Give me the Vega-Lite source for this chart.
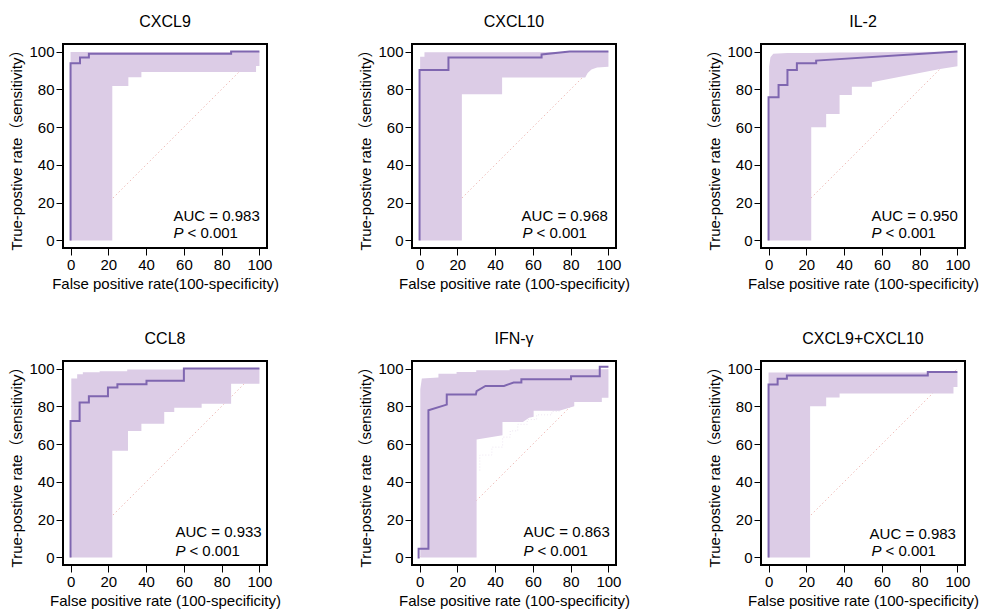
{
  "$schema": "https://vega.github.io/schema/vega-lite/v6.json",
  "padding": {"left": 8, "top": 13, "right": 5, "bottom": 5},
  "background": "white",
  "datasets": {
    "diag": [{"x": 0, "y": 0}, {"x": 100, "y": 100}],
    "curves": [
      {"panel": "CXCL9", "kind": "label", "auc": "AUC = 0.983", "p": "P", "pval": "< 0.001"},
      {"panel": "CXCL10", "kind": "label", "auc": "AUC = 0.968", "p": "P", "pval": "< 0.001"},
      {"panel": "IL-2", "kind": "label", "auc": "AUC = 0.950", "p": "P", "pval": "< 0.001"},
      {"panel": "CCL8", "kind": "label", "auc": "AUC = 0.933", "p": "P", "pval": "< 0.001"},
      {"panel": "IFN-γ", "kind": "label", "auc": "AUC = 0.863", "p": "P", "pval": "< 0.001"},
      {"panel": "CXCL9+CXCL10", "kind": "label", "auc": "AUC = 0.983", "p": "P", "pval": "< 0.001"},

      {"panel": "CXCL9", "kind": "band", "x": 0, "y": 99.8, "y2": 0},
      {"panel": "CXCL9", "kind": "band", "x": 22.1, "y": 99.8, "y2": 0},
      {"panel": "CXCL9", "kind": "band", "x": 22.1, "y": 99.8, "y2": 81.8},
      {"panel": "CXCL9", "kind": "band", "x": 30.6, "y": 99.8, "y2": 81.8},
      {"panel": "CXCL9", "kind": "band", "x": 30.6, "y": 99.8, "y2": 86.4},
      {"panel": "CXCL9", "kind": "band", "x": 37.5, "y": 99.8, "y2": 86.4},
      {"panel": "CXCL9", "kind": "band", "x": 37.5, "y": 99.8, "y2": 89.2},
      {"panel": "CXCL9", "kind": "band", "x": 98.2, "y": 99.8, "y2": 89.2},
      {"panel": "CXCL9", "kind": "band", "x": 98.2, "y": 99.8, "y2": 92.4},
      {"panel": "CXCL9", "kind": "band", "x": 100, "y": 99.8, "y2": 92.4},
      {"panel": "CXCL9", "kind": "roc", "x": 0, "y": 0},
      {"panel": "CXCL9", "kind": "roc", "x": 0, "y": 93.8},
      {"panel": "CXCL9", "kind": "roc", "x": 5, "y": 93.8},
      {"panel": "CXCL9", "kind": "roc", "x": 5, "y": 96.8},
      {"panel": "CXCL9", "kind": "roc", "x": 9.7, "y": 96.8},
      {"panel": "CXCL9", "kind": "roc", "x": 9.7, "y": 98.8},
      {"panel": "CXCL9", "kind": "roc", "x": 85, "y": 98.8},
      {"panel": "CXCL9", "kind": "roc", "x": 85, "y": 100},
      {"panel": "CXCL9", "kind": "roc", "x": 100, "y": 100},

      {"panel": "CXCL10", "kind": "band", "x": 0.3, "y": 97.3, "y2": 0},
      {"panel": "CXCL10", "kind": "band", "x": 2.6, "y": 97.3, "y2": 0},
      {"panel": "CXCL10", "kind": "band", "x": 2.6, "y": 99.6, "y2": 0},
      {"panel": "CXCL10", "kind": "band", "x": 22.4, "y": 99.6, "y2": 0},
      {"panel": "CXCL10", "kind": "band", "x": 22.4, "y": 99.6, "y2": 77.4},
      {"panel": "CXCL10", "kind": "band", "x": 43.7, "y": 99.6, "y2": 77.4},
      {"panel": "CXCL10", "kind": "band", "x": 43.7, "y": 99.6, "y2": 86.2},
      {"panel": "CXCL10", "kind": "band", "x": 87.7, "y": 99.8, "y2": 86.2},
      {"panel": "CXCL10", "kind": "band", "x": 89, "y": 99.8, "y2": 88.6},
      {"panel": "CXCL10", "kind": "band", "x": 91, "y": 99.8, "y2": 90.5},
      {"panel": "CXCL10", "kind": "band", "x": 94, "y": 99.8, "y2": 91.6},
      {"panel": "CXCL10", "kind": "band", "x": 100, "y": 100, "y2": 92},
      {"panel": "CXCL10", "kind": "roc", "x": 0, "y": 0},
      {"panel": "CXCL10", "kind": "roc", "x": 0, "y": 90.3},
      {"panel": "CXCL10", "kind": "roc", "x": 15.3, "y": 90.3},
      {"panel": "CXCL10", "kind": "roc", "x": 15.3, "y": 96.8},
      {"panel": "CXCL10", "kind": "roc", "x": 64.6, "y": 96.8},
      {"panel": "CXCL10", "kind": "roc", "x": 64.6, "y": 98.5},
      {"panel": "CXCL10", "kind": "roc", "x": 79.5, "y": 100},
      {"panel": "CXCL10", "kind": "roc", "x": 100, "y": 100},

      {"panel": "IL-2", "kind": "band", "x": 0.3, "y": 92, "y2": 0},
      {"panel": "IL-2", "kind": "band", "x": 1, "y": 97, "y2": 0},
      {"panel": "IL-2", "kind": "band", "x": 2.5, "y": 98.8, "y2": 0},
      {"panel": "IL-2", "kind": "band", "x": 10, "y": 99.2, "y2": 0},
      {"panel": "IL-2", "kind": "band", "x": 22.6, "y": 99.3, "y2": 0},
      {"panel": "IL-2", "kind": "band", "x": 22.6, "y": 99.3, "y2": 59.9},
      {"panel": "IL-2", "kind": "band", "x": 30.5, "y": 99.4, "y2": 59.9},
      {"panel": "IL-2", "kind": "band", "x": 30.5, "y": 99.4, "y2": 67},
      {"panel": "IL-2", "kind": "band", "x": 37.6, "y": 99.45, "y2": 67},
      {"panel": "IL-2", "kind": "band", "x": 37.6, "y": 99.45, "y2": 77},
      {"panel": "IL-2", "kind": "band", "x": 44.1, "y": 99.5, "y2": 77},
      {"panel": "IL-2", "kind": "band", "x": 44.1, "y": 99.5, "y2": 81.4},
      {"panel": "IL-2", "kind": "band", "x": 54.7, "y": 99.6, "y2": 81.4},
      {"panel": "IL-2", "kind": "band", "x": 54.7, "y": 99.6, "y2": 83.7},
      {"panel": "IL-2", "kind": "band", "x": 90.8, "y": 99.9, "y2": 90.8},
      {"panel": "IL-2", "kind": "band", "x": 100, "y": 100, "y2": 92.2},
      {"panel": "IL-2", "kind": "roc", "x": 0, "y": 0},
      {"panel": "IL-2", "kind": "roc", "x": 0, "y": 75.8},
      {"panel": "IL-2", "kind": "roc", "x": 5.3, "y": 75.8},
      {"panel": "IL-2", "kind": "roc", "x": 5.3, "y": 82.3},
      {"panel": "IL-2", "kind": "roc", "x": 10, "y": 82.3},
      {"panel": "IL-2", "kind": "roc", "x": 10, "y": 90.3},
      {"panel": "IL-2", "kind": "roc", "x": 15, "y": 90.3},
      {"panel": "IL-2", "kind": "roc", "x": 15, "y": 93.8},
      {"panel": "IL-2", "kind": "roc", "x": 25.2, "y": 93.8},
      {"panel": "IL-2", "kind": "roc", "x": 25.2, "y": 95.2},
      {"panel": "IL-2", "kind": "roc", "x": 100, "y": 100},

      {"panel": "CCL8", "kind": "band", "x": 0.4, "y": 94.7, "y2": 0},
      {"panel": "CCL8", "kind": "band", "x": 3.5, "y": 94.7, "y2": 0},
      {"panel": "CCL8", "kind": "band", "x": 3.5, "y": 97, "y2": 0},
      {"panel": "CCL8", "kind": "band", "x": 6.5, "y": 97, "y2": 0},
      {"panel": "CCL8", "kind": "band", "x": 6.5, "y": 98, "y2": 0},
      {"panel": "CCL8", "kind": "band", "x": 15.4, "y": 98, "y2": 0},
      {"panel": "CCL8", "kind": "band", "x": 15.4, "y": 98.6, "y2": 0},
      {"panel": "CCL8", "kind": "band", "x": 22.1, "y": 98.6, "y2": 0},
      {"panel": "CCL8", "kind": "band", "x": 22.1, "y": 98.6, "y2": 56.5},
      {"panel": "CCL8", "kind": "band", "x": 30, "y": 98.6, "y2": 56.5},
      {"panel": "CCL8", "kind": "band", "x": 30, "y": 99.5, "y2": 56.5},
      {"panel": "CCL8", "kind": "band", "x": 30.4, "y": 99.5, "y2": 56.5},
      {"panel": "CCL8", "kind": "band", "x": 30.4, "y": 99.5, "y2": 67},
      {"panel": "CCL8", "kind": "band", "x": 37.5, "y": 99.5, "y2": 67},
      {"panel": "CCL8", "kind": "band", "x": 37.5, "y": 99.5, "y2": 70.8},
      {"panel": "CCL8", "kind": "band", "x": 49.6, "y": 99.5, "y2": 70.8},
      {"panel": "CCL8", "kind": "band", "x": 49.6, "y": 99.5, "y2": 77},
      {"panel": "CCL8", "kind": "band", "x": 54.9, "y": 99.5, "y2": 77},
      {"panel": "CCL8", "kind": "band", "x": 54.9, "y": 99.5, "y2": 79.2},
      {"panel": "CCL8", "kind": "band", "x": 60, "y": 99.5, "y2": 79.2},
      {"panel": "CCL8", "kind": "band", "x": 60, "y": 100, "y2": 79.2},
      {"panel": "CCL8", "kind": "band", "x": 69.4, "y": 100, "y2": 79.2},
      {"panel": "CCL8", "kind": "band", "x": 69.4, "y": 100, "y2": 81.4},
      {"panel": "CCL8", "kind": "band", "x": 85, "y": 100, "y2": 81.4},
      {"panel": "CCL8", "kind": "band", "x": 85, "y": 100, "y2": 92},
      {"panel": "CCL8", "kind": "band", "x": 100, "y": 100, "y2": 92},
      {"panel": "CCL8", "kind": "roc", "x": 0, "y": 0},
      {"panel": "CCL8", "kind": "roc", "x": 0, "y": 72.2},
      {"panel": "CCL8", "kind": "roc", "x": 4.8, "y": 72.2},
      {"panel": "CCL8", "kind": "roc", "x": 4.8, "y": 82},
      {"panel": "CCL8", "kind": "roc", "x": 9.7, "y": 82},
      {"panel": "CCL8", "kind": "roc", "x": 9.7, "y": 85.3},
      {"panel": "CCL8", "kind": "roc", "x": 19.8, "y": 85.3},
      {"panel": "CCL8", "kind": "roc", "x": 19.8, "y": 90},
      {"panel": "CCL8", "kind": "roc", "x": 24.8, "y": 90},
      {"panel": "CCL8", "kind": "roc", "x": 24.8, "y": 91.7},
      {"panel": "CCL8", "kind": "roc", "x": 40.2, "y": 91.7},
      {"panel": "CCL8", "kind": "roc", "x": 40.2, "y": 93.5},
      {"panel": "CCL8", "kind": "roc", "x": 60, "y": 93.5},
      {"panel": "CCL8", "kind": "roc", "x": 60, "y": 100},
      {"panel": "CCL8", "kind": "roc", "x": 100, "y": 100},

      {"panel": "IFN-γ", "kind": "band", "x": 0.4, "y": 89, "y2": 0},
      {"panel": "IFN-γ", "kind": "band", "x": 1.2, "y": 94.7, "y2": 0},
      {"panel": "IFN-γ", "kind": "band", "x": 10, "y": 95.2, "y2": 0},
      {"panel": "IFN-γ", "kind": "band", "x": 10, "y": 97.3, "y2": 0},
      {"panel": "IFN-γ", "kind": "band", "x": 19.6, "y": 97.3, "y2": 0},
      {"panel": "IFN-γ", "kind": "band", "x": 19.6, "y": 98.2, "y2": 0},
      {"panel": "IFN-γ", "kind": "band", "x": 30, "y": 98.2, "y2": 0},
      {"panel": "IFN-γ", "kind": "band", "x": 30, "y": 99.1, "y2": 0},
      {"panel": "IFN-γ", "kind": "band", "x": 30.2, "y": 99.1, "y2": 0},
      {"panel": "IFN-γ", "kind": "band", "x": 30.2, "y": 99.1, "y2": 62.4},
      {"panel": "IFN-γ", "kind": "band", "x": 43.9, "y": 99.1, "y2": 64.7},
      {"panel": "IFN-γ", "kind": "band", "x": 43.9, "y": 99.1, "y2": 71.7},
      {"panel": "IFN-γ", "kind": "band", "x": 47.7, "y": 99.1, "y2": 71.7},
      {"panel": "IFN-γ", "kind": "band", "x": 47.7, "y": 99.6, "y2": 71.7},
      {"panel": "IFN-γ", "kind": "band", "x": 54.7, "y": 99.6, "y2": 71.7},
      {"panel": "IFN-γ", "kind": "band", "x": 58, "y": 99.6, "y2": 74},
      {"panel": "IFN-γ", "kind": "band", "x": 60.4, "y": 99.6, "y2": 74.5},
      {"panel": "IFN-γ", "kind": "band", "x": 60.4, "y": 99.6, "y2": 77.6},
      {"panel": "IFN-γ", "kind": "band", "x": 74, "y": 99.6, "y2": 77.6},
      {"panel": "IFN-γ", "kind": "band", "x": 81.9, "y": 99.6, "y2": 80},
      {"panel": "IFN-γ", "kind": "band", "x": 81.9, "y": 99.6, "y2": 82.3},
      {"panel": "IFN-γ", "kind": "band", "x": 96.5, "y": 99.6, "y2": 82.3},
      {"panel": "IFN-γ", "kind": "band", "x": 96.5, "y": 99.6, "y2": 84.5},
      {"panel": "IFN-γ", "kind": "band", "x": 100, "y": 99.6, "y2": 84.5},
      {"panel": "IFN-γ", "kind": "ci", "x": 31.9, "y": 46},
      {"panel": "IFN-γ", "kind": "ci", "x": 31.9, "y": 54.2},
      {"panel": "IFN-γ", "kind": "ci", "x": 38.3, "y": 54.2},
      {"panel": "IFN-γ", "kind": "ci", "x": 38.3, "y": 58.4},
      {"panel": "IFN-γ", "kind": "ci", "x": 44, "y": 58.4},
      {"panel": "IFN-γ", "kind": "ci", "x": 44, "y": 63.7},
      {"panel": "IFN-γ", "kind": "ci", "x": 48, "y": 63.7},
      {"panel": "IFN-γ", "kind": "ci", "x": 48, "y": 67},
      {"panel": "IFN-γ", "kind": "ci", "x": 52, "y": 67},
      {"panel": "IFN-γ", "kind": "ci", "x": 52, "y": 70.5},
      {"panel": "IFN-γ", "kind": "ci", "x": 57, "y": 70.5},
      {"panel": "IFN-γ", "kind": "ci", "x": 57, "y": 73},
      {"panel": "IFN-γ", "kind": "ci", "x": 62, "y": 73},
      {"panel": "IFN-γ", "kind": "ci", "x": 62, "y": 75.5},
      {"panel": "IFN-γ", "kind": "ci", "x": 70, "y": 75.5},
      {"panel": "IFN-γ", "kind": "ci", "x": 70, "y": 77.3},
      {"panel": "IFN-γ", "kind": "ci", "x": 74, "y": 77.3},
      {"panel": "IFN-γ", "kind": "roc", "x": -0.5, "y": -0.5},
      {"panel": "IFN-γ", "kind": "roc", "x": -0.5, "y": 4.6},
      {"panel": "IFN-γ", "kind": "roc", "x": 4.7, "y": 4.6},
      {"panel": "IFN-γ", "kind": "roc", "x": 4.7, "y": 77.9},
      {"panel": "IFN-γ", "kind": "roc", "x": 14.4, "y": 80.9},
      {"panel": "IFN-γ", "kind": "roc", "x": 14.4, "y": 86.2},
      {"panel": "IFN-γ", "kind": "roc", "x": 29.8, "y": 86.2},
      {"panel": "IFN-γ", "kind": "roc", "x": 30.2, "y": 88},
      {"panel": "IFN-γ", "kind": "roc", "x": 34.9, "y": 90.8},
      {"panel": "IFN-γ", "kind": "roc", "x": 44.7, "y": 90.8},
      {"panel": "IFN-γ", "kind": "roc", "x": 49.8, "y": 92.6},
      {"panel": "IFN-γ", "kind": "roc", "x": 53.9, "y": 92.6},
      {"panel": "IFN-γ", "kind": "roc", "x": 53.9, "y": 94.3},
      {"panel": "IFN-γ", "kind": "roc", "x": 80.2, "y": 94.3},
      {"panel": "IFN-γ", "kind": "roc", "x": 80.2, "y": 95.9},
      {"panel": "IFN-γ", "kind": "roc", "x": 95.4, "y": 95.9},
      {"panel": "IFN-γ", "kind": "roc", "x": 95.4, "y": 101},
      {"panel": "IFN-γ", "kind": "roc", "x": 100, "y": 101},

      {"panel": "CXCL9+CXCL10", "kind": "band", "x": 0, "y": 97.9, "y2": 0},
      {"panel": "CXCL9+CXCL10", "kind": "band", "x": 22, "y": 97.9, "y2": 0},
      {"panel": "CXCL9+CXCL10", "kind": "band", "x": 22, "y": 97.9, "y2": 80},
      {"panel": "CXCL9+CXCL10", "kind": "band", "x": 30.5, "y": 97.9, "y2": 80},
      {"panel": "CXCL9+CXCL10", "kind": "band", "x": 30.5, "y": 97.9, "y2": 84.7},
      {"panel": "CXCL9+CXCL10", "kind": "band", "x": 37.6, "y": 97.9, "y2": 84.7},
      {"panel": "CXCL9+CXCL10", "kind": "band", "x": 37.6, "y": 97.9, "y2": 86.8},
      {"panel": "CXCL9+CXCL10", "kind": "band", "x": 97.9, "y": 97.9, "y2": 86.8},
      {"panel": "CXCL9+CXCL10", "kind": "band", "x": 97.9, "y": 97.9, "y2": 90.3},
      {"panel": "CXCL9+CXCL10", "kind": "band", "x": 100, "y": 97.9, "y2": 90.3},
      {"panel": "CXCL9+CXCL10", "kind": "roc", "x": 0, "y": 0},
      {"panel": "CXCL9+CXCL10", "kind": "roc", "x": 0, "y": 91.5},
      {"panel": "CXCL9+CXCL10", "kind": "roc", "x": 4.8, "y": 91.5},
      {"panel": "CXCL9+CXCL10", "kind": "roc", "x": 4.8, "y": 94.6},
      {"panel": "CXCL9+CXCL10", "kind": "roc", "x": 9.7, "y": 94.6},
      {"panel": "CXCL9+CXCL10", "kind": "roc", "x": 9.7, "y": 96.3},
      {"panel": "CXCL9+CXCL10", "kind": "roc", "x": 84.3, "y": 96.3},
      {"panel": "CXCL9+CXCL10", "kind": "roc", "x": 84.3, "y": 98.2},
      {"panel": "CXCL9+CXCL10", "kind": "roc", "x": 100, "y": 98.2}
    ]
  },
  "columns": 3,
  "bounds": "flush",
  "spacing": {"row": 113, "column": 145},
  "concat": [
    {
      "title": "CXCL9", "width": 204, "height": 204,
      "data": {"name": "curves"},
      "transform": [{"filter": "datum.panel === 'CXCL9'"}],
      "layer": [
        {"data": {"name": "diag"}, "mark": {"type": "line", "color": "#F0BEBA", "strokeDash": [1.5, 2.5], "strokeWidth": 1},
         "encoding": {
          "x": {"field": "x", "type": "quantitative", "scale": {"domain": [-4, 104], "nice": false, "zero": false}, "axis": {"title": "False positive rate(100-specificity)", "values": [0, 20, 40, 60, 80, 100]}},
          "y": {"field": "y", "type": "quantitative", "scale": {"domain": [-4, 104], "nice": false, "zero": false}, "axis": {"title": "True-postive rate（sensitivity）", "values": [0, 20, 40, 60, 80, 100]}}}},
        {"transform": [{"filter": "datum.kind === 'band'"}], "mark": {"type": "area", "color": "#DCCCE6", "opacity": 1},
         "encoding": {"x": {"field": "x", "type": "quantitative"}, "y": {"field": "y", "type": "quantitative"}, "y2": {"field": "y2"}, "order": {"value": null}}},
        {"transform": [{"filter": "datum.kind === 'roc'"}], "mark": {"type": "line", "color": "#7F66B0", "strokeWidth": 2},
         "encoding": {"x": {"field": "x", "type": "quantitative"}, "y": {"field": "y", "type": "quantitative"}, "order": {"value": null}}},
        {"transform": [{"filter": "datum.kind === 'label'"}], "mark": {"type": "text", "align": "left", "baseline": "middle", "fontSize": 15, "color": "black"}, "encoding": {"x": {"datum": 54.5, "type": "quantitative"}, "y": {"datum": 13, "type": "quantitative"}, "text": {"field": "auc", "type": "nominal"}}},
        {"transform": [{"filter": "datum.kind === 'label'"}], "mark": {"type": "text", "align": "left", "baseline": "middle", "fontSize": 15, "fontStyle": "italic", "color": "black"}, "encoding": {"x": {"datum": 54.5, "type": "quantitative"}, "y": {"datum": 4, "type": "quantitative"}, "text": {"field": "p", "type": "nominal"}}},
        {"transform": [{"filter": "datum.kind === 'label'"}], "mark": {"type": "text", "align": "left", "baseline": "middle", "fontSize": 15, "dx": 14, "color": "black"}, "encoding": {"x": {"datum": 54.5, "type": "quantitative"}, "y": {"datum": 4, "type": "quantitative"}, "text": {"field": "pval", "type": "nominal"}}}
      ]
    },
    {
      "title": "CXCL10", "width": 204, "height": 204,
      "data": {"name": "curves"},
      "transform": [{"filter": "datum.panel === 'CXCL10'"}],
      "layer": [
        {"data": {"name": "diag"}, "mark": {"type": "line", "color": "#F0BEBA", "strokeDash": [1.5, 2.5], "strokeWidth": 1},
         "encoding": {
          "x": {"field": "x", "type": "quantitative", "scale": {"domain": [-4, 104], "nice": false, "zero": false}, "axis": {"title": "False positive rate (100-specificity)", "values": [0, 20, 40, 60, 80, 100]}},
          "y": {"field": "y", "type": "quantitative", "scale": {"domain": [-4, 104], "nice": false, "zero": false}, "axis": {"title": "True-postive rate（sensitivity）", "values": [0, 20, 40, 60, 80, 100]}}}},
        {"transform": [{"filter": "datum.kind === 'band'"}], "mark": {"type": "area", "color": "#DCCCE6", "opacity": 1},
         "encoding": {"x": {"field": "x", "type": "quantitative"}, "y": {"field": "y", "type": "quantitative"}, "y2": {"field": "y2"}, "order": {"value": null}}},
        {"transform": [{"filter": "datum.kind === 'roc'"}], "mark": {"type": "line", "color": "#7F66B0", "strokeWidth": 2},
         "encoding": {"x": {"field": "x", "type": "quantitative"}, "y": {"field": "y", "type": "quantitative"}, "order": {"value": null}}},
        {"transform": [{"filter": "datum.kind === 'label'"}], "mark": {"type": "text", "align": "left", "baseline": "middle", "fontSize": 15, "color": "black"}, "encoding": {"x": {"datum": 54, "type": "quantitative"}, "y": {"datum": 13, "type": "quantitative"}, "text": {"field": "auc", "type": "nominal"}}},
        {"transform": [{"filter": "datum.kind === 'label'"}], "mark": {"type": "text", "align": "left", "baseline": "middle", "fontSize": 15, "fontStyle": "italic", "color": "black"}, "encoding": {"x": {"datum": 54.5, "type": "quantitative"}, "y": {"datum": 4, "type": "quantitative"}, "text": {"field": "p", "type": "nominal"}}},
        {"transform": [{"filter": "datum.kind === 'label'"}], "mark": {"type": "text", "align": "left", "baseline": "middle", "fontSize": 15, "dx": 14, "color": "black"}, "encoding": {"x": {"datum": 54.5, "type": "quantitative"}, "y": {"datum": 4, "type": "quantitative"}, "text": {"field": "pval", "type": "nominal"}}}
      ]
    },
    {
      "title": "IL-2", "width": 204, "height": 204,
      "data": {"name": "curves"},
      "transform": [{"filter": "datum.panel === 'IL-2'"}],
      "layer": [
        {"data": {"name": "diag"}, "mark": {"type": "line", "color": "#F0BEBA", "strokeDash": [1.5, 2.5], "strokeWidth": 1},
         "encoding": {
          "x": {"field": "x", "type": "quantitative", "scale": {"domain": [-4, 104], "nice": false, "zero": false}, "axis": {"title": "False positive rate (100-specificity)", "values": [0, 20, 40, 60, 80, 100]}},
          "y": {"field": "y", "type": "quantitative", "scale": {"domain": [-4, 104], "nice": false, "zero": false}, "axis": {"title": "True-postive rate（sensitivity）", "values": [0, 20, 40, 60, 80, 100]}}}},
        {"transform": [{"filter": "datum.kind === 'band'"}], "mark": {"type": "area", "color": "#DCCCE6", "opacity": 1},
         "encoding": {"x": {"field": "x", "type": "quantitative"}, "y": {"field": "y", "type": "quantitative"}, "y2": {"field": "y2"}, "order": {"value": null}}},
        {"transform": [{"filter": "datum.kind === 'roc'"}], "mark": {"type": "line", "color": "#7F66B0", "strokeWidth": 2},
         "encoding": {"x": {"field": "x", "type": "quantitative"}, "y": {"field": "y", "type": "quantitative"}, "order": {"value": null}}},
        {"transform": [{"filter": "datum.kind === 'label'"}], "mark": {"type": "text", "align": "left", "baseline": "middle", "fontSize": 15, "color": "black"}, "encoding": {"x": {"datum": 54.5, "type": "quantitative"}, "y": {"datum": 13, "type": "quantitative"}, "text": {"field": "auc", "type": "nominal"}}},
        {"transform": [{"filter": "datum.kind === 'label'"}], "mark": {"type": "text", "align": "left", "baseline": "middle", "fontSize": 15, "fontStyle": "italic", "color": "black"}, "encoding": {"x": {"datum": 54.5, "type": "quantitative"}, "y": {"datum": 4, "type": "quantitative"}, "text": {"field": "p", "type": "nominal"}}},
        {"transform": [{"filter": "datum.kind === 'label'"}], "mark": {"type": "text", "align": "left", "baseline": "middle", "fontSize": 15, "dx": 14, "color": "black"}, "encoding": {"x": {"datum": 54.5, "type": "quantitative"}, "y": {"datum": 4, "type": "quantitative"}, "text": {"field": "pval", "type": "nominal"}}}
      ]
    },
    {
      "title": "CCL8", "width": 204, "height": 204,
      "data": {"name": "curves"},
      "transform": [{"filter": "datum.panel === 'CCL8'"}],
      "layer": [
        {"data": {"name": "diag"}, "mark": {"type": "line", "color": "#F0BEBA", "strokeDash": [1.5, 2.5], "strokeWidth": 1},
         "encoding": {
          "x": {"field": "x", "type": "quantitative", "scale": {"domain": [-4, 104], "nice": false, "zero": false}, "axis": {"title": "False positive rate (100-specificity)", "values": [0, 20, 40, 60, 80, 100]}},
          "y": {"field": "y", "type": "quantitative", "scale": {"domain": [-4, 104], "nice": false, "zero": false}, "axis": {"title": "True-postive rate（sensitivity）", "values": [0, 20, 40, 60, 80, 100]}}}},
        {"transform": [{"filter": "datum.kind === 'band'"}], "mark": {"type": "area", "color": "#DCCCE6", "opacity": 1},
         "encoding": {"x": {"field": "x", "type": "quantitative"}, "y": {"field": "y", "type": "quantitative"}, "y2": {"field": "y2"}, "order": {"value": null}}},
        {"transform": [{"filter": "datum.kind === 'roc'"}], "mark": {"type": "line", "color": "#7F66B0", "strokeWidth": 2},
         "encoding": {"x": {"field": "x", "type": "quantitative"}, "y": {"field": "y", "type": "quantitative"}, "order": {"value": null}}},
        {"transform": [{"filter": "datum.kind === 'label'"}], "mark": {"type": "text", "align": "left", "baseline": "middle", "fontSize": 15, "color": "black"}, "encoding": {"x": {"datum": 55.5, "type": "quantitative"}, "y": {"datum": 13.4, "type": "quantitative"}, "text": {"field": "auc", "type": "nominal"}}},
        {"transform": [{"filter": "datum.kind === 'label'"}], "mark": {"type": "text", "align": "left", "baseline": "middle", "fontSize": 15, "fontStyle": "italic", "color": "black"}, "encoding": {"x": {"datum": 55.5, "type": "quantitative"}, "y": {"datum": 3.3, "type": "quantitative"}, "text": {"field": "p", "type": "nominal"}}},
        {"transform": [{"filter": "datum.kind === 'label'"}], "mark": {"type": "text", "align": "left", "baseline": "middle", "fontSize": 15, "dx": 14, "color": "black"}, "encoding": {"x": {"datum": 55.5, "type": "quantitative"}, "y": {"datum": 3.3, "type": "quantitative"}, "text": {"field": "pval", "type": "nominal"}}}
      ]
    },
    {
      "title": "IFN-γ", "width": 204, "height": 204,
      "data": {"name": "curves"},
      "transform": [{"filter": "datum.panel === 'IFN-γ'"}],
      "layer": [
        {"data": {"name": "diag"}, "mark": {"type": "line", "color": "#F0BEBA", "strokeDash": [1.5, 2.5], "strokeWidth": 1},
         "encoding": {
          "x": {"field": "x", "type": "quantitative", "scale": {"domain": [-4, 104], "nice": false, "zero": false}, "axis": {"title": "False positive rate (100-specificity)", "values": [0, 20, 40, 60, 80, 100]}},
          "y": {"field": "y", "type": "quantitative", "scale": {"domain": [-4, 104], "nice": false, "zero": false}, "axis": {"title": "True-postive rate（sensitivity）", "values": [0, 20, 40, 60, 80, 100]}}}},
        {"transform": [{"filter": "datum.kind === 'band'"}], "mark": {"type": "area", "color": "#DCCCE6", "opacity": 1},
         "encoding": {"x": {"field": "x", "type": "quantitative"}, "y": {"field": "y", "type": "quantitative"}, "y2": {"field": "y2"}, "order": {"value": null}}},
        {"transform": [{"filter": "datum.kind === 'ci'"}], "mark": {"type": "line", "color": "#EDE5F1", "strokeDash": [1, 2], "strokeWidth": 1},
         "encoding": {"x": {"field": "x", "type": "quantitative"}, "y": {"field": "y", "type": "quantitative"}, "order": {"value": null}}},
        {"transform": [{"filter": "datum.kind === 'roc'"}], "mark": {"type": "line", "color": "#7F66B0", "strokeWidth": 2},
         "encoding": {"x": {"field": "x", "type": "quantitative"}, "y": {"field": "y", "type": "quantitative"}, "order": {"value": null}}},
        {"transform": [{"filter": "datum.kind === 'label'"}], "mark": {"type": "text", "align": "left", "baseline": "middle", "fontSize": 15, "color": "black"}, "encoding": {"x": {"datum": 55, "type": "quantitative"}, "y": {"datum": 13.4, "type": "quantitative"}, "text": {"field": "auc", "type": "nominal"}}},
        {"transform": [{"filter": "datum.kind === 'label'"}], "mark": {"type": "text", "align": "left", "baseline": "middle", "fontSize": 15, "fontStyle": "italic", "color": "black"}, "encoding": {"x": {"datum": 55, "type": "quantitative"}, "y": {"datum": 3.3, "type": "quantitative"}, "text": {"field": "p", "type": "nominal"}}},
        {"transform": [{"filter": "datum.kind === 'label'"}], "mark": {"type": "text", "align": "left", "baseline": "middle", "fontSize": 15, "dx": 14, "color": "black"}, "encoding": {"x": {"datum": 55, "type": "quantitative"}, "y": {"datum": 3.3, "type": "quantitative"}, "text": {"field": "pval", "type": "nominal"}}}
      ]
    },
    {
      "title": "CXCL9+CXCL10", "width": 204, "height": 204,
      "data": {"name": "curves"},
      "transform": [{"filter": "datum.panel === 'CXCL9+CXCL10'"}],
      "layer": [
        {"data": {"name": "diag"}, "mark": {"type": "line", "color": "#F0BEBA", "strokeDash": [1.5, 2.5], "strokeWidth": 1},
         "encoding": {
          "x": {"field": "x", "type": "quantitative", "scale": {"domain": [-4, 104], "nice": false, "zero": false}, "axis": {"title": "False positive rate (100-specificity)", "values": [0, 20, 40, 60, 80, 100]}},
          "y": {"field": "y", "type": "quantitative", "scale": {"domain": [-4, 104], "nice": false, "zero": false}, "axis": {"title": "True-postive rate（sensitivity）", "values": [0, 20, 40, 60, 80, 100]}}}},
        {"transform": [{"filter": "datum.kind === 'band'"}], "mark": {"type": "area", "color": "#DCCCE6", "opacity": 1},
         "encoding": {"x": {"field": "x", "type": "quantitative"}, "y": {"field": "y", "type": "quantitative"}, "y2": {"field": "y2"}, "order": {"value": null}}},
        {"transform": [{"filter": "datum.kind === 'roc'"}], "mark": {"type": "line", "color": "#7F66B0", "strokeWidth": 2},
         "encoding": {"x": {"field": "x", "type": "quantitative"}, "y": {"field": "y", "type": "quantitative"}, "order": {"value": null}}},
        {"transform": [{"filter": "datum.kind === 'label'"}], "mark": {"type": "text", "align": "left", "baseline": "middle", "fontSize": 15, "color": "black"}, "encoding": {"x": {"datum": 53.5, "type": "quantitative"}, "y": {"datum": 12.5, "type": "quantitative"}, "text": {"field": "auc", "type": "nominal"}}},
        {"transform": [{"filter": "datum.kind === 'label'"}], "mark": {"type": "text", "align": "left", "baseline": "middle", "fontSize": 15, "fontStyle": "italic", "color": "black"}, "encoding": {"x": {"datum": 54.5, "type": "quantitative"}, "y": {"datum": 3.3, "type": "quantitative"}, "text": {"field": "p", "type": "nominal"}}},
        {"transform": [{"filter": "datum.kind === 'label'"}], "mark": {"type": "text", "align": "left", "baseline": "middle", "fontSize": 15, "dx": 14, "color": "black"}, "encoding": {"x": {"datum": 54.5, "type": "quantitative"}, "y": {"datum": 3.3, "type": "quantitative"}, "text": {"field": "pval", "type": "nominal"}}}
      ]
    }
  ],
  "config": {
    "font": "Liberation Sans",
    "view": {"stroke": "black", "strokeWidth": 2},
    "axis": {
      "domain": false, "grid": false, "ticks": true,
      "tickColor": "black", "tickSize": 7, "tickWidth": 1,
      "labelFont": "Liberation Sans", "labelFontSize": 15, "labelColor": "black", "labelPadding": 2,
      "labelFlush": false, "labelOverlap": false,
      "titleFont": "Liberation Sans, Noto Sans CJK SC", "titleFontSize": 15, "titleFontWeight": "normal", "titleColor": "black", "titlePadding": 4
    },
    "title": {"font": "Liberation Sans", "fontSize": 16, "fontWeight": "normal", "color": "black", "offset": 12, "anchor": "middle"},
    "text": {"font": "Liberation Sans"}
  }
}
